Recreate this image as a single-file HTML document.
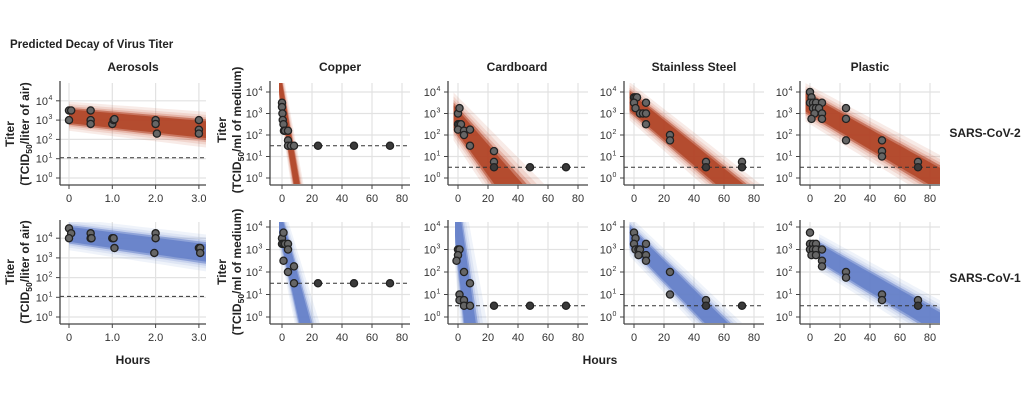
<!DOCTYPE html>
<html><head><meta charset="utf-8"><style>
html,body{margin:0;padding:0;background:#fff;width:1024px;height:415px;overflow:hidden;position:relative}
svg{display:block;position:absolute;left:0;top:0;font-family:"Liberation Sans",sans-serif}
</style></head><body>
<svg id="s" width="1024" height="415" viewBox="0 0 1024 415" xmlns="http://www.w3.org/2000/svg">
<text x="10" y="48" font-size="11.5" font-weight="bold" fill="#222">Predicted Decay of Virus Titer</text>
<g font-size="12" font-weight="bold" fill="#222" text-anchor="middle">
<text x="133" y="71">Aerosols</text><text x="340" y="71">Copper</text><text x="517" y="71">Cardboard</text><text x="694" y="71">Stainless Steel</text><text x="870" y="71">Plastic</text>
<text x="985" y="137">SARS-CoV-2</text><text x="985" y="282">SARS-CoV-1</text>
<text x="133" y="364">Hours</text><text x="600" y="364">Hours</text>
</g>
<g font-size="12" font-weight="bold" fill="#222" text-anchor="middle">
<text transform="translate(14,134) rotate(-90)">Titer</text>
<text transform="translate(29,134) rotate(-90)">(TCID<tspan font-size="8.5" dy="3">50</tspan><tspan dy="-3">/liter of air)</tspan></text>
<text transform="translate(14,272) rotate(-90)">Titer</text>
<text transform="translate(29,272) rotate(-90)">(TCID<tspan font-size="8.5" dy="3">50</tspan><tspan dy="-3">/liter of air)</tspan></text>
<text transform="translate(226,130) rotate(-90)">Titer</text>
<text transform="translate(241,130) rotate(-90)">(TCID<tspan font-size="8.5" dy="3">50</tspan><tspan dy="-3">/ml of medium)</tspan></text>
<text transform="translate(226,272) rotate(-90)">Titer</text>
<text transform="translate(241,272) rotate(-90)">(TCID<tspan font-size="8.5" dy="3">50</tspan><tspan dy="-3">/ml of medium)</tspan></text>
</g>
<g id="g"></g>
</svg>
<script>
(function(){
var G=document.getElementById('g'),h='',cid=0;
var RED=['#c9583a','#b04427'],BLUE=['#7f99d6','#6580c8'];
function P(o){
 var X=function(t){return o.x0+t*o.ppu},Y=function(l){return o.y0-l*o.dec};
 var id='clp'+(cid++);
 h+='<clipPath id="'+id+'"><rect x="'+(o.ax+1)+'" y="'+o.top+'" width="'+(o.right-o.ax-1)+'" height="'+(o.bot-o.top-1)+'"/></clipPath>';
 for(var l=0;l<=4;l++)h+='<line x1="'+o.ax+'" x2="'+o.right+'" y1="'+Y(l)+'" y2="'+Y(l)+'" stroke="#e2e2e2" stroke-width="1.2"/>';
 o.xt.forEach(function(t){h+='<line x1="'+X(t)+'" x2="'+X(t)+'" y1="'+o.top+'" y2="'+o.bot+'" stroke="#e2e2e2" stroke-width="1.2"/>';});
 var c=o.col,b=o.band,tmax=(o.right-o.x0)/o.ppu+5,ts=(b.ts!==undefined)?b.ts:(o.aer?0:-3);
 h+='<g clip-path="url(#'+id+')">';
 var layers=[[b.w*1.8,0.12,c[0]],[b.w*1.5,0.15,c[0]],[b.w*1.25,0.25,c[0]],[b.w*1.05,0.55,c[1]],[b.w*0.85,0.85,c[1]]];
 layers.forEach(function(L){
  var w=L[0],pts=[],n=30,i,t;
  for(i=0;i<=n;i++){t=ts+(tmax-ts)*i/n;pts.push(X(t).toFixed(1)+','+Y(b.c-b.k*t+w*(1+(b.g||0)*t)).toFixed(1));}
  for(i=n;i>=0;i--){t=ts+(tmax-ts)*i/n;pts.push(X(t).toFixed(1)+','+Y(b.c-b.k*t-w*(1+(b.g||0)*t)).toFixed(1));}
  h+='<polygon points="'+pts.join(' ')+'" fill="'+L[2]+'" fill-opacity="'+L[1]+'"/>';
 });
 h+='</g>';
 h+='<line x1="'+o.ax+'" x2="'+o.right+'" y1="'+Y(o.lod)+'" y2="'+Y(o.lod)+'" stroke="#333" stroke-width="1" stroke-dasharray="4,3"/>';
 h+='<line x1="'+o.ax+'" x2="'+o.ax+'" y1="'+(o.top-2)+'" y2="'+o.bot+'" stroke="#444" stroke-width="1.3"/>';
 h+='<line x1="'+o.ax+'" x2="'+o.right+'" y1="'+o.bot+'" y2="'+o.bot+'" stroke="#444" stroke-width="1.3"/>';
 for(var l=0;l<=4;l++){h+='<line x1="'+(o.ax-4)+'" x2="'+o.ax+'" y1="'+Y(l)+'" y2="'+Y(l)+'" stroke="#444"/>';
  h+='<text x="'+(o.ax-12)+'" y="'+(Y(l)+4)+'" font-size="11" fill="#333" text-anchor="end">10</text><text x="'+(o.ax-11.5)+'" y="'+(Y(l)-1)+'" font-size="7" fill="#333">'+l+'</text>';}
 o.xt.forEach(function(t,i){h+='<line x1="'+X(t)+'" x2="'+X(t)+'" y1="'+o.bot+'" y2="'+(o.bot+4)+'" stroke="#444"/>';
  h+='<text x="'+X(t)+'" y="'+(o.bot+17)+'" font-size="11" fill="#333" text-anchor="middle">'+o.xl[i]+'</text>';});
 o.pts.forEach(function(p){var dark=Math.abs(p[1]-o.lod)<0.05&&p[0]>20;
  h+='<circle cx="'+X(p[0])+'" cy="'+Y(p[1])+'" r="3.6" fill="'+(dark?'#3a3a3a':'#666')+'" stroke="#222" stroke-width="1.3"/>';});
}
var xtA=[0,1,2,3],xlA=['0','1.0','2.0','3.0'],xt=[0,20,40,60,80],xl=['0','20','40','60','80'];
function tp(o){o.top=83;o.bot=185;o.y0=178;o.dec=21.5;return o}
function bt(o){o.top=222;o.bot=324;o.y0=317;o.dec=22.5;return o}
var LODs=0.5;
P({x0:69,ppu:43.3,ax:60,right:206,top:83,bot:185,y0:178,dec:19.3,aer:1,xt:xtA,xl:xlA,col:RED,lod:1.05,
 band:{c:3.2,k:0.22,w:0.42,g:0.07},pts:[[0,3.5],[0.05,3.5],[0,3],[0.5,3.5],[0.5,3],[0.5,2.8],[1,2.8],[1.03,3],[1.05,3.05],[2,3],[2,2.8],[2.03,2.3],[3,3],[3,2.5],[3,2.3]]});
P(tp({x0:282,ppu:1.5,ax:270,right:410,xt:xt,xl:xl,col:RED,lod:1.5,
 band:{c:3.8,k:0.42,w:0.75,g:0.03,ts:-2},pts:[[0,3.5],[0,3.3],[0.3,3],[0.5,2.7],[1,2.5],[1.3,2.2],[2,2.2],[4,2.2],[4,1.75],[4,1.5],[6,1.5],[8,1.5],[24,1.5],[48,1.5],[72,1.5]]}));
P(tp({x0:458,ppu:1.5,ax:448,right:588,xt:xt,xl:xl,col:RED,lod:LODs,
 band:{c:2.6,k:0.088,w:0.65,g:0.015},pts:[[0,3],[1,3.25],[0,2.5],[1,2.5],[2,2.5],[0,2.25],[4,2.2],[4,2],[8,2.25],[8,1.5],[24,1.25],[24,0.75],[24,0.5],[48,0.5],[72,0.5]]}));
P(tp({x0:634,ppu:1.5,ax:624,right:764,xt:xt,xl:xl,col:RED,lod:LODs,
 band:{c:3.4,k:0.058,w:0.5,g:0.004},pts:[[0,3.75],[1,3.75],[2,3.75],[0,3.5],[1,3.25],[4,3],[6,3],[8,3.5],[8,3],[8,2.5],[24,2],[24,1.75],[48,0.75],[48,0.5],[72,0.75],[72,0.5]]}));
P(tp({x0:810,ppu:1.5,ax:800,right:940,xt:xt,xl:xl,col:RED,lod:LODs,
 band:{c:3.4,k:0.04,w:0.5,g:0.003},pts:[[0,4],[1,3.75],[0,3.5],[2,3.5],[4,3.5],[8,3.5],[2,3.25],[4,3.25],[6,3.25],[3,3],[8,3],[1,2.75],[8,2.75],[24,3.25],[24,2.75],[24,1.75],[48,1.75],[48,1.25],[48,1],[72,0.75],[72,0.5]]}));
P({x0:69,ppu:43.3,ax:60,right:206,top:222,bot:324,y0:317,dec:19.7,aer:1,xt:xtA,xl:xlA,col:BLUE,lod:1.05,
 band:{c:4.2,k:0.3,w:0.45,g:0.05},pts:[[0,4.5],[0.05,4.25],[0,4],[0.5,4.25],[0.5,4],[0.52,4],[1,4],[1.03,4],[1.05,3.5],[2,4.25],[2,4],[1.97,3.25],[3,3.5],[3.03,3.5],[3.03,3.25]]});
P(bt({x0:282,ppu:1.5,ax:270,right:410,xt:xt,xl:xl,col:BLUE,lod:1.5,
 band:{c:3.8,k:0.27,w:0.75,g:0.04,ts:-2},pts:[[0,3.5],[0,3.25],[1,3.75],[1,3.25],[2,3.25],[4,3.25],[4,3],[1,2.5],[4,2],[8,2.25],[8,1.5],[24,1.5],[48,1.5],[72,1.5]]}));
P(bt({x0:458,ppu:1.5,ax:448,right:588,xt:xt,xl:xl,col:BLUE,lod:LODs,
 band:{c:3.8,k:0.55,w:1.7,g:0.06,ts:-2},pts:[[0,3],[1,3],[0,2.75],[-1,2.5],[4,2],[8,1.5],[1,1],[1,0.75],[4,0.75],[4,0.5],[8,0.5],[24,0.5],[48,0.5],[72,0.5]]}));
P(bt({x0:634,ppu:1.5,ax:624,right:764,xt:xt,xl:xl,col:BLUE,lod:LODs,
 band:{c:3.4,k:0.067,w:0.5,g:0.004},pts:[[0,3.75],[1,3.5],[0,3.25],[1,3],[3,3],[4,3],[3,2.75],[8,3.25],[8,2.75],[8,2.5],[24,2],[24,1],[48,0.75],[48,0.5],[72,0.5]]}));
P(bt({x0:810,ppu:1.5,ax:800,right:940,xt:xt,xl:xl,col:BLUE,lod:LODs,
 band:{c:3.1,k:0.039,w:0.45,g:0.003,ts:6},pts:[[0,3.75],[0,3.25],[2,3.25],[4,3.25],[0,3],[2,3],[4,3],[8,3],[1,2.75],[4,2.75],[8,2.5],[8,2.25],[24,2],[24,1.75],[48,1],[48,0.75],[72,0.75],[72,0.5]]}));
G.innerHTML=h;
})();
</script>
</body></html>
